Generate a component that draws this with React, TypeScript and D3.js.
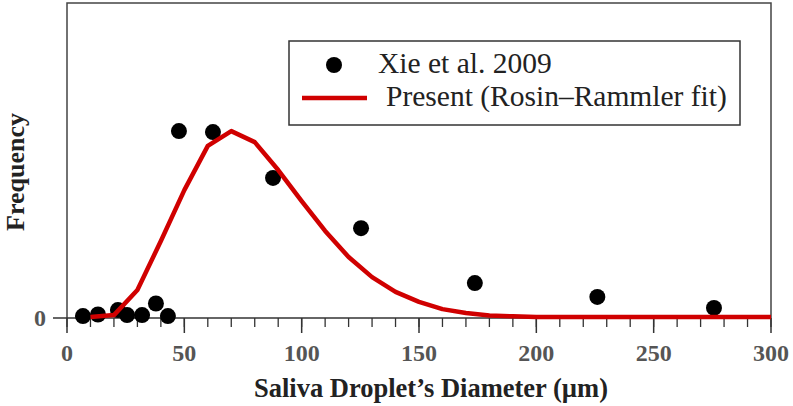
import React from "react";
import * as d3 from "d3";

// measured droplet sizes (um) and frequency (arbitrary, 0..1 of axis height)
const xieDiameter = [6.8, 13.2, 21.7, 25.6, 32, 37.9, 43, 47.7, 62.2, 87.8, 125.3, 173.8, 226, 275.7];
const xieFreq = [0.003, 0.008, 0.022, 0.006, 0.006, 0.043, 0.003, 0.592, 0.589, 0.443, 0.283, 0.108, 0.064, 0.029];

// Rosin-Rammler fit, sampled every 10 um
const fitDiameter = [10, 20, 30, 40, 50, 60, 70, 80, 90, 100, 110, 120, 130, 140, 150, 160, 170, 180, 190, 200, 210, 220, 230, 240, 250, 260, 270, 280, 290, 300];
const fitFreq = [0, 0.006, 0.086, 0.242, 0.404, 0.545, 0.592, 0.557, 0.468, 0.369, 0.274, 0.191, 0.127, 0.08, 0.048, 0.025, 0.013, 0.005, 0.002, 0, 0, 0, 0, 0, 0, 0, 0, 0, 0, 0];

const xTicks = [0, 50, 100, 150, 200, 250, 300];
const legendLabels = ["Xie et al. 2009", "Present (Rosin\u2013Rammler fit)"];

const App = () => {
  const width = 793;
  const height = 406;
  const left = 67;
  const right = 771;
  const top = 3;
  const bottom = 318;

  const x = d3.scaleLinear().domain([0, 300]).range([left, right]);
  const y = d3.scaleLinear().domain([0, 1]).range([317, top]);

  const minor = x.ticks(30);

  const line = d3
    .line<number>()
    .x((d, i) => x(fitDiameter[i]))
    .y((d) => y(d));

  const serif = "'Liberation Serif', 'Times New Roman', serif";
  const red = "#d00000";

  return (
    <svg
      width={width}
      height={height}
      style={{ position: "absolute", left: 0, top: 0, background: "#fff" }}
      fontFamily={serif}
    >
      {/* frame */}
      <path
        d={`M${left},${bottom}V${top}H${right}V${bottom}`}
        fill="none"
        stroke="#444"
        strokeWidth={1.5}
      />
      {/* x axis */}
      <line x1={left} x2={right} y1={bottom} y2={bottom} stroke="#333" strokeWidth={1.5} />
      {minor.map((t) => (
        <line key={"m" + t} x1={x(t)} x2={x(t)} y1={bottom} y2={bottom + 9} stroke="#333" strokeWidth={1.3} />
      ))}
      {xTicks.map((t) => (
        <g key={"t" + t}>
          <line x1={x(t)} x2={x(t)} y1={bottom} y2={bottom + 15} stroke="#333" strokeWidth={1.5} />
          <text x={x(t)} y={361} textAnchor="middle" fontSize={24} fontWeight="bold" fill="#555">
            {t}
          </text>
        </g>
      ))}
      {/* y axis zero */}
      <line x1={53} x2={left} y1={bottom} y2={bottom} stroke="#333" strokeWidth={1.5} />
      <text x={46} y={326} textAnchor="end" fontSize={24} fontWeight="bold" fill="#555">
        0
      </text>
      <text
        transform="translate(24,172) rotate(-90)"
        textAnchor="middle"
        fontSize={26}
        fontWeight="bold"
        fill="#222"
      >
        Frequency
      </text>
      <text x={431} y={397} textAnchor="middle" fontSize={26.5} fontWeight="bold" fill="#222">
        Saliva Droplet’s Diameter (µm)
      </text>

      {/* data */}
      {xieDiameter.map((d, i) => (
        <circle key={"p" + i} cx={x(d)} cy={y(xieFreq[i])} r={8} fill="#000" />
      ))}
      <path d={line(fitFreq) || ""} fill="none" stroke={red} strokeWidth={4.5} strokeLinejoin="round" />

      {/* legend */}
      <rect x={289} y={41} width={451} height={84} fill="#fff" stroke="#333" strokeWidth={1.5} />
      <circle cx={334} cy={65} r={8} fill="#000" />
      <text x={378} y={73} fontSize={29.5} fill="#222">
        {legendLabels[0]}
      </text>
      <line x1={302} x2={367} y1={98} y2={98} stroke={red} strokeWidth={4.5} />
      <text x={386} y={106} fontSize={29.5} fill="#222">
        {legendLabels[1]}
      </text>
    </svg>
  );
};

export default App;
